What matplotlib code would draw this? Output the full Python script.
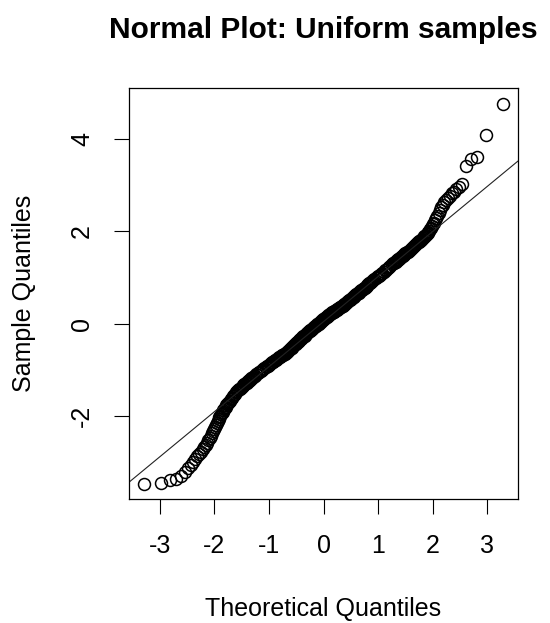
"""
Normal Q-Q plot of 1000 samples, drawn in the style of R's qqnorm()/qqline().
The sample quantiles below were read off the reference picture, rank by rank
in the tails and on a coarser rank grid through the dense body.
"""
from statistics import NormalDist

import numpy as np
import matplotlib
matplotlib.use("Agg")
import matplotlib.pyplot as plt

N_SAMPLES = 1000

# ranks 1..40 (individual points in the lower tail)
lower_tail = [-3.48, -3.46, -3.39, -3.36, -3.31, -3.22, -3.14, -3.07, -3.00, -2.94,
              -2.88, -2.83, -2.78, -2.73, -2.68, -2.63, -2.58, -2.53, -2.48, -2.43,
              -2.38, -2.33, -2.28, -2.24, -2.19, -2.15, -2.11, -2.07, -2.03, -2.00,
              -1.97, -1.94, -1.91, -1.88, -1.85, -1.83, -1.80, -1.77, -1.75, -1.73]
# ranks 42..98, every 2nd
lower_shoulder = [-1.70, -1.67, -1.64, -1.61, -1.58, -1.55, -1.52, -1.49, -1.47, -1.45,
                  -1.43, -1.41, -1.39, -1.38, -1.35, -1.34, -1.32, -1.31, -1.29, -1.28,
                  -1.27, -1.25, -1.24, -1.23, -1.22, -1.20, -1.19, -1.18, -1.17]
# ranks 100..900, every 5th
body = [-1.16, -1.13, -1.10, -1.08, -1.05, -1.03, -1.01, -0.99, -0.97, -0.95,
        -0.93, -0.91, -0.89, -0.88, -0.86, -0.84, -0.83, -0.81, -0.79, -0.78,
        -0.77, -0.75, -0.73, -0.72, -0.71, -0.69, -0.68, -0.67, -0.65, -0.64,
        -0.62, -0.61, -0.59, -0.57, -0.56, -0.54, -0.52, -0.50, -0.49, -0.47,
        -0.45, -0.44, -0.42, -0.40, -0.39, -0.37, -0.36, -0.34, -0.33, -0.31,
        -0.30, -0.28, -0.27, -0.26, -0.24, -0.23, -0.21, -0.20, -0.19, -0.17,
        -0.16, -0.15, -0.13, -0.12, -0.11, -0.10, -0.08, -0.07, -0.06, -0.05,
        -0.03, -0.02, -0.01, 0.00, 0.02, 0.03, 0.04, 0.05, 0.07, 0.08,
        0.09, 0.10, 0.11, 0.13, 0.14, 0.15, 0.16, 0.18, 0.19, 0.20,
        0.21, 0.22, 0.23, 0.24, 0.25, 0.26, 0.27, 0.28, 0.29, 0.30,
        0.31, 0.32, 0.33, 0.34, 0.35, 0.36, 0.37, 0.38, 0.39, 0.40,
        0.42, 0.43, 0.44, 0.46, 0.47, 0.48, 0.50, 0.51, 0.53, 0.54,
        0.55, 0.57, 0.58, 0.60, 0.61, 0.63, 0.64, 0.66, 0.67, 0.69,
        0.70, 0.72, 0.73, 0.75, 0.76, 0.78, 0.80, 0.81, 0.83, 0.85,
        0.87, 0.88, 0.90, 0.92, 0.94, 0.96, 0.98, 1.00, 1.02, 1.04,
        1.06, 1.08, 1.10, 1.12, 1.15, 1.17, 1.20, 1.22, 1.25, 1.28,
        1.31]
# ranks 903..959, every 2nd
upper_shoulder = [1.32, 1.33, 1.34, 1.36, 1.37, 1.38, 1.39, 1.40, 1.42, 1.43,
                  1.44, 1.46, 1.47, 1.49, 1.50, 1.52, 1.53, 1.55, 1.56, 1.58,
                  1.60, 1.62, 1.64, 1.66, 1.68, 1.70, 1.72, 1.74, 1.76]
# ranks 960..1000 (individual points in the upper tail)
upper_tail = [1.77, 1.78, 1.79, 1.81, 1.82, 1.84, 1.85, 1.87, 1.89, 1.90,
              1.92, 1.94, 1.96, 1.98, 2.01, 2.04, 2.07, 2.11, 2.15, 2.19,
              2.24, 2.29, 2.34, 2.40, 2.46, 2.52, 2.58, 2.63, 2.68, 2.73,
              2.77, 2.82, 2.86, 2.91, 2.96, 3.03, 3.41, 3.57, 3.62, 4.09,
              4.77]

x_ticks = [-3, -2, -1, 0, 1, 2, 3]
y_ticks = [-2, 0, 2, 4]

TITLE = "Normal Plot: Uniform samples"
XLABEL = "Theoretical Quantiles"
YLABEL = "Sample Quantiles"


def sample_ranks():
    """Order-statistic ranks matching the value lists above."""
    return (list(range(1, 41)) + list(range(42, 99, 2)) + list(range(100, 901, 5))
            + list(range(903, 960, 2)) + list(range(960, 1001)))


def theoretical_quantiles(ranks, n):
    """qnorm(ppoints(n)) for the given ranks, as R's qqnorm does (n > 10)."""
    nd = NormalDist()
    return np.array([nd.inv_cdf((r - 0.5) / n) for r in ranks])


def main():
    plt.rcParams["font.family"] = ["Liberation Sans", "DejaVu Sans"]
    plt.rcParams["axes.unicode_minus"] = False

    ranks = np.array(sample_ranks())
    sample = np.array(lower_tail + lower_shoulder + body + upper_shoulder + upper_tail)
    assert len(ranks) == len(sample)
    theo = theoretical_quantiles(ranks, N_SAMPLES)

    # qqline: line through the first and third quartiles (type 7 quantiles)
    q_pos = [(N_SAMPLES - 1) * p + 1 for p in (0.25, 0.75)]
    y_q = np.interp(q_pos, ranks, sample)
    x_q = [NormalDist().inv_cdf(0.25), NormalDist().inv_cdf(0.75)]
    slope = (y_q[1] - y_q[0]) / (x_q[1] - x_q[0])
    intercept = y_q[0] - slope * x_q[0]

    fig = plt.figure(figsize=(5.5, 6.23), dpi=100)
    ax = fig.add_axes([0.2351, 0.1986, 0.7062, 0.6597])

    ax.plot(theo, sample, linestyle="none", marker="o", markersize=8.6,
            markerfacecolor="none", markeredgecolor="black", markeredgewidth=1.1)
    ax.margins(0.04)
    ax.axline((0, intercept), slope=slope, color="#222222", linewidth=0.8)

    ax.set_xticks(x_ticks)
    ax.set_yticks(y_ticks)
    ax.set_xticklabels([str(t) for t in x_ticks])
    ax.set_yticklabels([str(t) for t in y_ticks], rotation=90, va="center")
    ax.tick_params(direction="out", length=10.8, width=0.8, labelsize=18, pad=14.5)
    for spine in ax.spines.values():
        spine.set_linewidth(0.9)

    ax.set_xlabel(XLABEL, fontsize=18, va="baseline")
    ax.xaxis.set_label_coords(0.5, -0.284)
    ax.set_ylabel(YLABEL, fontsize=18, va="center")
    ax.yaxis.set_label_coords(-0.27, 0.5)
    ax.text(0.5, 1.1231, TITLE, transform=ax.transAxes, ha="center", va="baseline",
            fontsize=21.5, fontweight="bold")

    fig.savefig("out.png", dpi=100)
    plt.close(fig)


if __name__ == "__main__":
    main()
